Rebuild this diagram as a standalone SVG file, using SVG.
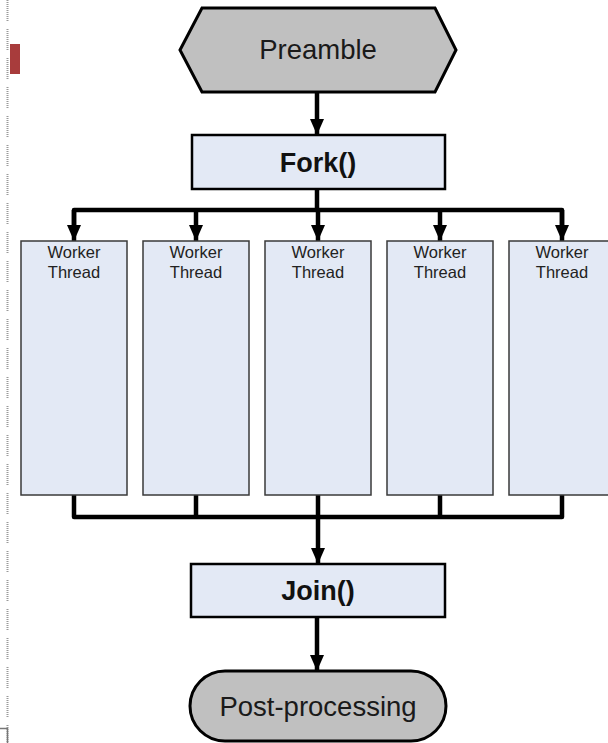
<svg xmlns="http://www.w3.org/2000/svg" width="608" height="743" viewBox="0 0 608 743">
  <defs>
    <marker id="arrow" viewBox="0 0 16 14" refX="16" refY="7" markerWidth="16" markerHeight="15" markerUnits="userSpaceOnUse" orient="auto">
      <path d="M0,0 L16,7 L0,14 Z" fill="#000"/>
    </marker>
    <style>
      .term { fill: #c0c0c0; stroke: #000; stroke-width: 3; }
      .ctl { fill: #e3e9f5; stroke: #000; stroke-width: 2.5; }
      .worker { fill: #e3e9f5; stroke: #3a3a3a; stroke-width: 1.5; }
      .big { font-family: "Liberation Sans", Arial, sans-serif; font-size: 27.5px; fill: #1a1a1a; text-anchor: middle; }
      .bold { font-family: "Liberation Sans", Arial, sans-serif; font-size: 27px; font-weight: bold; fill: #111; text-anchor: middle; }
      .small { font-family: "Liberation Sans", Arial, sans-serif; font-size: 16.5px; fill: #222; text-anchor: middle; }
      .wire { fill: none; stroke: #000; stroke-width: 4.5; stroke-linejoin: round; }
    </style>
  </defs>

  <!-- page margin decorations -->
  <g id="margin">
    <line x1="7.5" y1="0" x2="7.5" y2="743" stroke="#9a9a9a" stroke-width="2" stroke-dasharray="1 1 1 1 1 1 1 1 1 1 1 1 1 1 1 1 1 1 1 1 1 8"/>
    <rect x="10" y="44" width="10" height="30" fill="#a83c3c"/>
    <path d="M0,728.5 H7.5 V743" fill="none" stroke="#777" stroke-width="1.5"/>
  </g>

  <g id="connectors">
    <line class="wire" x1="317" y1="92" x2="317" y2="135" marker-end="url(#arrow)"/>
    <path class="wire" d="M317,189 V210 M74,226 V210 H562 V226"/>
    <line class="wire" x1="74" y1="210" x2="74" y2="241" marker-end="url(#arrow)"/>
    <line class="wire" x1="196" y1="210" x2="196" y2="241" marker-end="url(#arrow)"/>
    <line class="wire" x1="318" y1="210" x2="318" y2="241" marker-end="url(#arrow)"/>
    <line class="wire" x1="440" y1="210" x2="440" y2="241" marker-end="url(#arrow)"/>
    <line class="wire" x1="562" y1="210" x2="562" y2="241" marker-end="url(#arrow)"/>
    <path class="wire" d="M74,495 V517 H562 V495 M196,495 V517 M318,495 V517 M440,495 V517"/>
    <line class="wire" x1="318" y1="517" x2="318" y2="564" marker-end="url(#arrow)"/>
    <line class="wire" x1="317" y1="617" x2="317" y2="671" marker-end="url(#arrow)"/>
  </g>

  <g id="preamble">
    <polygon class="term" points="180,50 202,8 435,8 456,50 435,92 202,92"/>
    <text class="big" x="318" y="59">Preamble</text>
  </g>

  <g id="fork">
    <rect class="ctl" x="192" y="135" width="253" height="54"/>
    <text class="bold" x="318" y="172">Fork()</text>
  </g>

  <g id="worker1">
    <rect class="worker" x="21" y="241" width="106" height="254"/>
    <text class="small" x="74" y="258">Worker</text>
    <text class="small" x="74" y="278">Thread</text>
  </g>
  <g id="worker2">
    <rect class="worker" x="143" y="241" width="106" height="254"/>
    <text class="small" x="196" y="258">Worker</text>
    <text class="small" x="196" y="278">Thread</text>
  </g>
  <g id="worker3">
    <rect class="worker" x="265" y="241" width="106" height="254"/>
    <text class="small" x="318" y="258">Worker</text>
    <text class="small" x="318" y="278">Thread</text>
  </g>
  <g id="worker4">
    <rect class="worker" x="387" y="241" width="106" height="254"/>
    <text class="small" x="440" y="258">Worker</text>
    <text class="small" x="440" y="278">Thread</text>
  </g>
  <g id="worker5">
    <rect class="worker" x="509" y="241" width="106" height="254"/>
    <text class="small" x="562" y="258">Worker</text>
    <text class="small" x="562" y="278">Thread</text>
  </g>

  <g id="join">
    <rect class="ctl" x="191" y="564" width="254" height="53"/>
    <text class="bold" x="318" y="600">Join()</text>
  </g>

  <g id="postprocessing">
    <rect class="term" x="190" y="671" width="256" height="70" rx="35" ry="35"/>
    <text class="big" x="318" y="716">Post-processing</text>
  </g>
</svg>
